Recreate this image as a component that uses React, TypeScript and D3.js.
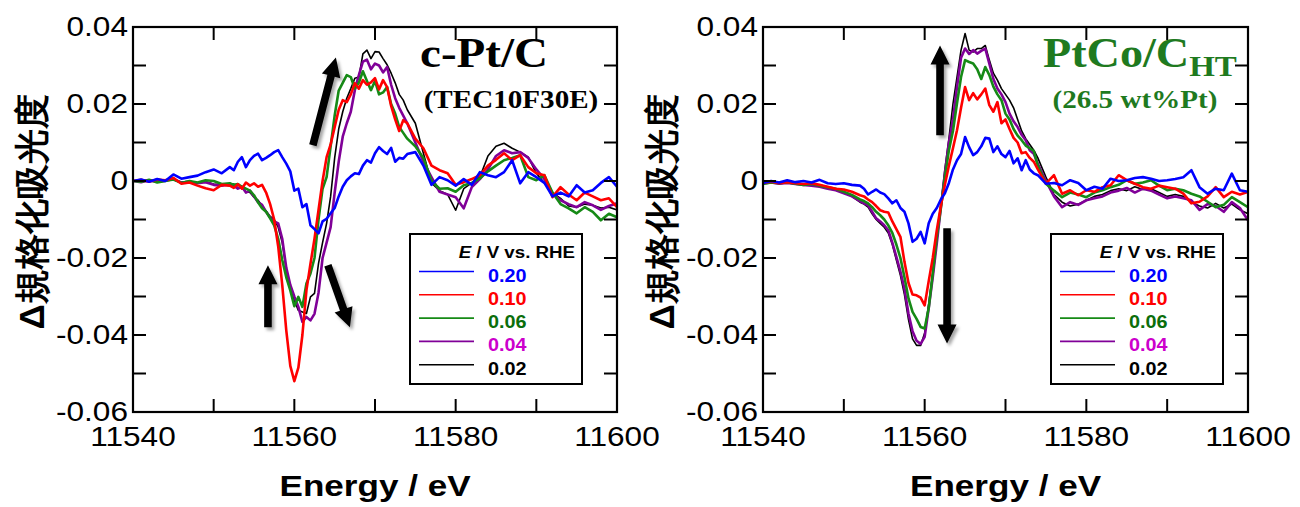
import React from "react";
import * as d3 from "d3";

// ---------- energy grid (eV) ----------
const energyLow = d3.range(11540, 11552.5, 1); // 13
const energyEdge = d3.range(11552.5, 11574.25, 0.5); // 44
const energyHigh = d3.range(11575, 11600.5, 1); // 26
const energy = [...energyLow, ...energyEdge, ...energyHigh];

// ---------- c-Pt/C (left) ----------
const ptBlue020 = [
  0.0000, 0.0004, -0.0002, 0.0005, 0.0000, 0.0017, 0.0006, 0.0010, 0.0014, 0.0023, 0.0030, 0.0020, 0.0036,
  0.0028, 0.0050, 0.0062, 0.0036, 0.0054, 0.0065, 0.0071, 0.0054, 0.0060, 0.0067, 0.0075, 0.0080, 0.0062, 0.0045, 0.0025, -0.0025, -0.0020, -0.0068, -0.0060, -0.0115, -0.0125, -0.0136, -0.0105, -0.0098, -0.0084, -0.0070, -0.0040, -0.0015, 0.0002, 0.0012, 0.0020, 0.0018, 0.0040, 0.0054, 0.0048, 0.0072, 0.0088, 0.0078, 0.0070, 0.0086, 0.0050, 0.0060, 0.0058, 0.0070,
  0.0075, 0.0040, -0.0010, 0.0010, 0.0002, -0.0012, 0.0005, -0.0010, 0.0023, 0.0015, 0.0010, 0.0023, 0.0054, -0.0006, 0.0023, 0.0010, -0.0005, -0.0040, -0.0030, -0.0040, -0.0011, -0.0030, -0.0024, -0.0005, 0.0010, -0.0015,
];
const ptRed010 = [
  0.0000, 0.0003, -0.0002, 0.0004, 0.0002, 0.0008, -0.0007, -0.0004, -0.0012, -0.0019, -0.0024, -0.0010, -0.0012,
  -0.0018, -0.0008, -0.0020, -0.0004, -0.0012, -0.0006, -0.0015, -0.0010, -0.0030, -0.0060, -0.0100, -0.0170, -0.0270, -0.0388, -0.0480, -0.0520, -0.0485, -0.0400, -0.0284, -0.0215, -0.0150, -0.0075, 0.0000, 0.0062, 0.0095, 0.0140, 0.0185, 0.0210, 0.0205, 0.0225, 0.0254, 0.0240, 0.0262, 0.0250, 0.0256, 0.0267, 0.0238, 0.0262, 0.0244, 0.0195, 0.0160, 0.0130, 0.0158, 0.0150,
  0.0110, 0.0085, 0.0040, 0.0028, 0.0020, -0.0010, -0.0003, 0.0005, 0.0015, 0.0040, 0.0055, 0.0072, 0.0054, 0.0067, 0.0036, 0.0020, 0.0015, -0.0042, -0.0016, -0.0035, -0.0050, -0.0030, -0.0040, -0.0050, -0.0045, -0.0068,
];
const ptGreen006 = [
  0.0000, -0.0002, 0.0003, -0.0004, 0.0000, 0.0004, -0.0005, 0.0000, -0.0004, 0.0002, 0.0000, -0.0008, -0.0006,
  -0.0010, -0.0008, -0.0015, -0.0020, -0.0025, -0.0037, -0.0055, -0.0071, -0.0080, -0.0097, -0.0115, -0.0150, -0.0205, -0.0250, -0.0284, -0.0325, -0.0301, -0.0327, -0.0266, -0.0240, -0.0200, -0.0100, -0.0020, 0.0010, 0.0090, 0.0170, 0.0235, 0.0255, 0.0275, 0.0270, 0.0240, 0.0255, 0.0285, 0.0260, 0.0236, 0.0260, 0.0225, 0.0230, 0.0244, 0.0200, 0.0175, 0.0140, 0.0125, 0.0110,
  0.0090, 0.0060, 0.0000, -0.0020, -0.0019, -0.0028, -0.0011, -0.0005, 0.0007, 0.0025, 0.0040, 0.0054, 0.0060, 0.0067, 0.0010, 0.0002, 0.0015, -0.0030, -0.0060, -0.0071, -0.0084, -0.0068, -0.0080, -0.0102, -0.0085, -0.0094,
];
const ptPurple004 = [
  0.0000, -0.0003, 0.0002, -0.0002, 0.0001, 0.0005, -0.0004, -0.0002, -0.0006, -0.0003, -0.0010, -0.0012, -0.0008,
  -0.0012, -0.0020, -0.0015, -0.0030, -0.0025, -0.0040, -0.0055, -0.0062, -0.0080, -0.0095, -0.0105, -0.0110, -0.0150, -0.0225, -0.0270, -0.0300, -0.0327, -0.0366, -0.0353, -0.0362, -0.0345, -0.0290, -0.0200, -0.0160, -0.0120, -0.0030, 0.0050, 0.0115, 0.0150, 0.0180, 0.0236, 0.0275, 0.0310, 0.0315, 0.0290, 0.0305, 0.0300, 0.0282, 0.0296, 0.0250, 0.0215, 0.0190, 0.0170, 0.0150,
  0.0100, 0.0050, 0.0010, -0.0028, -0.0035, -0.0042, -0.0071, -0.0016, 0.0005, 0.0030, 0.0065, 0.0080, 0.0072, 0.0075, 0.0060, 0.0030, 0.0005, -0.0032, -0.0050, -0.0060, -0.0068, -0.0055, -0.0063, -0.0075, -0.0065, -0.0058,
];
const ptBlack002 = [
  0.0000, -0.0002, 0.0003, -0.0003, 0.0002, 0.0004, -0.0003, -0.0001, -0.0005, -0.0002, -0.0008, -0.0010, -0.0012,
  -0.0008, -0.0018, -0.0014, -0.0028, -0.0030, -0.0042, -0.0050, -0.0065, -0.0078, -0.0092, -0.0100, -0.0120, -0.0160, -0.0230, -0.0275, -0.0310, -0.0336, -0.0340, -0.0344, -0.0301, -0.0292, -0.0214, -0.0160, -0.0110, -0.0040, 0.0060, 0.0135, 0.0180, 0.0215, 0.0240, 0.0267, 0.0270, 0.0330, 0.0340, 0.0318, 0.0336, 0.0335, 0.0318, 0.0302, 0.0280, 0.0255, 0.0225, 0.0210, 0.0185,
  0.0150, 0.0072, -0.0005, -0.0025, -0.0035, -0.0076, -0.0020, -0.0005, 0.0010, 0.0065, 0.0090, 0.0098, 0.0085, 0.0075, 0.0062, 0.0020, -0.0005, -0.0030, -0.0045, -0.0065, -0.0068, -0.0060, -0.0063, -0.0070, -0.0068, -0.0075,
];

// ---------- PtCo/C HT (right) ----------
const coBlue020 = [
  -0.0005, 0.0000, -0.0004, 0.0002, -0.0003, 0.0000, -0.0004, 0.0003, -0.0006, -0.0008, -0.0006, -0.0010, -0.0012,
  -0.0020, -0.0035, -0.0028, -0.0022, -0.0030, -0.0034, -0.0045, -0.0058, -0.0050, -0.0070, -0.0080, -0.0110, -0.0158, -0.0150, -0.0132, -0.0162, -0.0110, -0.0085, -0.0070, -0.0048, -0.0032, -0.0005, 0.0030, 0.0054, 0.0070, 0.0114, 0.0088, 0.0067, 0.0075, 0.0090, 0.0112, 0.0110, 0.0075, 0.0090, 0.0070, 0.0062, 0.0078, 0.0046, 0.0059, 0.0028, 0.0054, 0.0030, 0.0020, 0.0015,
  -0.0007, -0.0005, -0.0011, 0.0002, -0.0005, -0.0024, -0.0015, -0.0020, 0.0006, 0.0000, 0.0002, 0.0008, 0.0010, 0.0006, 0.0000, 0.0002, 0.0005, 0.0010, 0.0028, -0.0016, -0.0033, -0.0020, -0.0024, 0.0019, -0.0024, -0.0028,
];
const coRed010 = [
  -0.0005, -0.0002, -0.0006, -0.0003, -0.0006, -0.0008, -0.0006, -0.0010, -0.0015, -0.0020, -0.0022, -0.0028, -0.0037,
  -0.0040, -0.0048, -0.0055, -0.0065, -0.0076, -0.0080, -0.0082, -0.0105, -0.0125, -0.0145, -0.0210, -0.0265, -0.0295, -0.0297, -0.0303, -0.0323, -0.0260, -0.0200, -0.0128, -0.0065, -0.0010, 0.0040, 0.0085, 0.0132, 0.0190, 0.0244, 0.0210, 0.0228, 0.0212, 0.0225, 0.0240, 0.0197, 0.0180, 0.0205, 0.0150, 0.0160, 0.0135, 0.0112, 0.0100, 0.0072, 0.0075, 0.0060, 0.0050, 0.0030,
  -0.0007, 0.0015, -0.0033, -0.0024, -0.0037, -0.0024, -0.0028, -0.0016, -0.0011, 0.0015, 0.0002, -0.0007, -0.0016, -0.0020, -0.0012, -0.0016, -0.0020, -0.0033, -0.0058, -0.0054, -0.0040, -0.0016, -0.0042, -0.0028, -0.0035, -0.0028,
];
const coGreen006 = [
  -0.0008, -0.0004, -0.0006, -0.0003, -0.0007, -0.0010, -0.0008, -0.0012, -0.0016, -0.0020, -0.0028, -0.0036, -0.0048,
  -0.0052, -0.0058, -0.0068, -0.0080, -0.0089, -0.0100, -0.0115, -0.0135, -0.0165, -0.0200, -0.0250, -0.0305, -0.0340, -0.0358, -0.0379, -0.0383, -0.0330, -0.0240, -0.0145, -0.0070, 0.0010, 0.0080, 0.0130, 0.0202, 0.0270, 0.0314, 0.0309, 0.0305, 0.0290, 0.0265, 0.0296, 0.0275, 0.0245, 0.0225, 0.0210, 0.0175, 0.0160, 0.0135, 0.0118, 0.0106, 0.0092, 0.0085, 0.0078, 0.0040,
  -0.0007, -0.0025, -0.0042, -0.0030, -0.0035, -0.0042, -0.0030, -0.0024, -0.0016, -0.0010, 0.0002, -0.0007, -0.0004, 0.0002, -0.0012, -0.0024, -0.0020, -0.0024, -0.0033, -0.0040, -0.0054, -0.0068, -0.0062, -0.0042, -0.0055, -0.0068,
];
const coPurple004 = [
  -0.0006, -0.0004, -0.0007, -0.0005, -0.0008, -0.0010, -0.0012, -0.0015, -0.0020, -0.0024, -0.0032, -0.0040, -0.0052,
  -0.0058, -0.0063, -0.0080, -0.0097, -0.0105, -0.0115, -0.0128, -0.0160, -0.0197, -0.0235, -0.0280, -0.0345, -0.0390, -0.0415, -0.0423, -0.0405, -0.0330, -0.0250, -0.0162, -0.0070, 0.0020, 0.0100, 0.0160, 0.0244, 0.0320, 0.0344, 0.0330, 0.0340, 0.0331, 0.0338, 0.0344, 0.0305, 0.0265, 0.0240, 0.0225, 0.0205, 0.0175, 0.0155, 0.0140, 0.0120, 0.0106, 0.0080, 0.0071, 0.0045,
  0.0000, -0.0040, -0.0068, -0.0055, -0.0062, -0.0050, -0.0045, -0.0040, -0.0030, -0.0025, -0.0018, -0.0030, -0.0020, -0.0025, -0.0035, -0.0045, -0.0040, -0.0045, -0.0050, -0.0075, -0.0060, -0.0065, -0.0080, -0.0055, -0.0070, -0.0102,
];
const coBlack002 = [
  -0.0005, -0.0003, -0.0006, -0.0004, -0.0007, -0.0009, -0.0011, -0.0014, -0.0019, -0.0023, -0.0030, -0.0040, -0.0055,
  -0.0060, -0.0068, -0.0085, -0.0100, -0.0110, -0.0120, -0.0135, -0.0165, -0.0205, -0.0245, -0.0295, -0.0360, -0.0410, -0.0427, -0.0427, -0.0395, -0.0320, -0.0240, -0.0155, -0.0065, 0.0030, 0.0110, 0.0200, 0.0270, 0.0340, 0.0383, 0.0340, 0.0335, 0.0344, 0.0344, 0.0352, 0.0314, 0.0280, 0.0262, 0.0240, 0.0225, 0.0210, 0.0190, 0.0160, 0.0130, 0.0110, 0.0095, 0.0080, 0.0060,
  0.0010, -0.0035, -0.0055, -0.0065, -0.0060, -0.0050, -0.0040, -0.0035, -0.0025, -0.0020, -0.0025, -0.0015, -0.0022, -0.0020, -0.0030, -0.0040, -0.0035, -0.0040, -0.0055, -0.0065, -0.0070, -0.0058, -0.0070, -0.0060, -0.0075, -0.0085,
];

// ---------- labels / styles ----------
const potentials = ["0.20", "0.10", "0.06", "0.04", "0.02"];
const lineColors = ["#0000ff", "#ff0000", "#168a16", "#800098", "#000000"];
const textColors = ["#0000ff", "#ff0000", "#0b6e0b", "#cc00cc", "#000000"];
const lineWidths = [2.6, 2.6, 2.6, 2.6, 1.6];
const drawOrder = [4, 3, 2, 1, 0];
const yLabelTicks = [0.04, 0.02, 0, -0.02, -0.04, -0.06];
const xLabelTicks = [11540, 11560, 11580, 11600];
const xTitle = "Energy / eV";
const yTitle = "Δ規格化吸光度";

const SANS = "'Liberation Sans', Arial, sans-serif";
const SERIF = "'Liberation Serif', 'Times New Roman', serif";
const SX = 1.17; // horizontal stretch of the reference text

const fmt = (d: number) => (d === 0 ? "0" : d3.format(".2f")(d).replace("\u2212", "-"));

function arrowPoints(x1: number, y1: number, x2: number, y2: number) {
  const dx = x2 - x1, dy = y2 - y1;
  const L = Math.hypot(dx, dy);
  const ux = dx / L, uy = dy / L;
  const nx = -uy, ny = ux;
  const sw = 3.8, hw = 9.5, hl = 19;
  const bx = x2 - ux * hl, by = y2 - uy * hl;
  const p = [
    [x1 + nx * sw, y1 + ny * sw],
    [bx + nx * sw, by + ny * sw],
    [bx + nx * hw, by + ny * hw],
    [x2, y2],
    [bx - nx * hw, by - ny * hw],
    [bx - nx * sw, by - ny * sw],
    [x1 - nx * sw, y1 - ny * sw],
  ];
  return p.map((q) => q.join(",")).join(" ");
}

type Panel = {
  id: string;
  left: number;
  right: number;
  series: number[][];
  arrows: [number, number, number, number][];
  legendX: number;
};

const panels: Panel[] = [
  {
    id: "ptc",
    left: 133,
    right: 617,
    series: [ptBlue020, ptRed010, ptGreen006, ptPurple004, ptBlack002],
    arrows: [
      [11562.3, 0.0093, 11565.15, 0.0321],
      [11556.73, -0.038, 11556.73, -0.0219],
      [11564.16, -0.0219, 11566.89, -0.038],
    ],
    legendX: 277,
  },
  {
    id: "ptco",
    left: 763,
    right: 1248,
    series: [coBlue020, coRed010, coGreen006, coPurple004, coBlack002],
    arrows: [
      [11561.9, 0.0119, 11561.9, 0.0352],
      [11562.77, -0.0123, 11562.77, -0.0422],
    ],
    legendX: 288,
  },
];

const TOP = 27;
const BOTTOM = 412;

function PanelView({ p }: { p: Panel }) {
  const x = d3.scaleLinear().domain([11540, 11600]).range([p.left, p.right]);
  const y = d3.scaleLinear().domain([-0.06, 0.04]).range([BOTTOM, TOP]);
  const line = d3
    .line<number>()
    .x((_, i) => x(energy[i]))
    .y((d) => y(d));
  const yTicks = y.ticks(10);
  const xTicks = x.ticks(6);
  const tl = 13;
  const lx = p.left + p.legendX;
  const ly = 234;
  const cx = (p.left + p.right) / 2;
  return (
    <g>
      <clipPath id={`clip-${p.id}`}>
        <rect x={p.left} y={TOP} width={p.right - p.left} height={BOTTOM - TOP} />
      </clipPath>
      <g clipPath={`url(#clip-${p.id})`}>
        {drawOrder.map((k) => (
          <path
            key={k}
            d={line(p.series[k]) || ""}
            fill="none"
            stroke={lineColors[k]}
            strokeWidth={lineWidths[k]}
            strokeLinejoin="round"
          />
        ))}
      </g>
      {/* frame */}
      <rect x={p.left} y={TOP} width={p.right - p.left} height={BOTTOM - TOP} fill="none" stroke="#000" strokeWidth={2.2} />
      {yTicks.map((t) => (
        <g key={`y${t}`}>
          <line x1={p.left} x2={p.left + tl} y1={y(t)} y2={y(t)} stroke="#000" strokeWidth={2} />
          <line x1={p.right} x2={p.right - tl} y1={y(t)} y2={y(t)} stroke="#000" strokeWidth={2} />
        </g>
      ))}
      {xTicks.map((t) => (
        <g key={`x${t}`}>
          <line x1={x(t)} x2={x(t)} y1={BOTTOM} y2={BOTTOM - tl} stroke="#000" strokeWidth={2} />
          <line x1={x(t)} x2={x(t)} y1={TOP} y2={TOP + tl} stroke="#000" strokeWidth={2} />
        </g>
      ))}
      {yLabelTicks.map((t) => (
        <text
          key={`yl${t}`}
          transform={`translate(${p.left - 5},${y(t) + 8.5}) scale(${SX},1)`}
          textAnchor="end"
          fontFamily={SANS}
          fontSize={27}
        >
          {fmt(t)}
        </text>
      ))}
      {xLabelTicks.map((t) => (
        <text
          key={`xl${t}`}
          transform={`translate(${x(t)},${446}) scale(${SX},1)`}
          textAnchor="middle"
          fontFamily={SANS}
          fontSize={27}
        >
          {t}
        </text>
      ))}
      <text
        transform={`translate(${cx},${496}) scale(${SX},1)`}
        textAnchor="middle"
        fontFamily={SANS}
        fontWeight="bold"
        fontSize={30}
      >
        {xTitle}
      </text>
      <text
        transform={`translate(${p.left - 89},${212}) rotate(-90)`}
        textAnchor="middle"
        fontFamily={SANS}
        fontWeight="bold"
        fontSize={35}
      >
        {yTitle}
      </text>
      {/* arrows */}
      <g filter="url(#shadow)">
        {p.arrows.map((a, i) => (
          <polygon key={i} points={arrowPoints(x(a[0]), y(a[1]), x(a[2]), y(a[3]))} fill="#000" />
        ))}
      </g>
      {/* legend */}
      <rect x={lx} y={ly} width={172} height={150} fill="#fff" stroke="#000" strokeWidth={2} />
      <text transform={`translate(${lx + 165},${ly + 24}) scale(1.1,1)`} textAnchor="end" fontFamily={SANS} fontWeight="bold" fontSize={17}>
        <tspan fontStyle="italic">E</tspan> / V vs. RHE
      </text>
      {potentials.map((lab, k) => (
        <g key={lab}>
          <line
            x1={lx + 9}
            x2={lx + 64}
            y1={ly + 37.5 + k * 23.3}
            y2={ly + 37.5 + k * 23.3}
            stroke={lineColors[k]}
            strokeWidth={1.6}
          />
          <text
            transform={`translate(${lx + 78},${ly + 47.5 + k * 23.3}) scale(1.1,1)`}
            fontFamily={SANS}
            fontWeight="bold"
            fontSize={18}
            fill={textColors[k]}
          >
            {lab}
          </text>
        </g>
      ))}
    </g>
  );
}

export default function App() {
  return (
    <svg
      width={1300}
      height={507}
      style={{ position: "absolute", left: 0, top: 0, background: "#fff" }}
    >
      <defs>
        <filter id="shadow" x="-50%" y="-50%" width="200%" height="200%">
          <feDropShadow dx={2.5} dy={3} stdDeviation={1.8} floodColor="#000" floodOpacity={0.35} />
        </filter>
      </defs>
      <rect width={1300} height={507} fill="#fff" />
      {panels.map((p) => (
        <PanelView key={p.id} p={p} />
      ))}
      {/* titles */}
      <text x={484} y={67} textAnchor="middle" fontFamily={SERIF} fontWeight="bold" fontSize={42} transform="translate(484,0) scale(1.12,1) translate(-484,0)">
        c-Pt/C
      </text>
      <text x={511} y={108} textAnchor="middle" fontFamily={SERIF} fontWeight="bold" fontSize={26} transform="translate(511,0) scale(1.12,1) translate(-511,0)">
        (TEC10F30E)
      </text>
      <text x={1043} y={67} fontFamily={SERIF} fontWeight="bold" fontSize={42} fill="#1f7a1f" transform="translate(1043,0) scale(1.1,1) translate(-1043,0)">
        PtCo/C
        <tspan fontSize={30} dy={9}>HT</tspan>
      </text>
      <text x={1135} y={108} textAnchor="middle" fontFamily={SERIF} fontWeight="bold" fontSize={26} fill="#1f7a1f" transform="translate(1135,0) scale(1.12,1) translate(-1135,0)">
        (26.5 wt%Pt)
      </text>
    </svg>
  );
}
